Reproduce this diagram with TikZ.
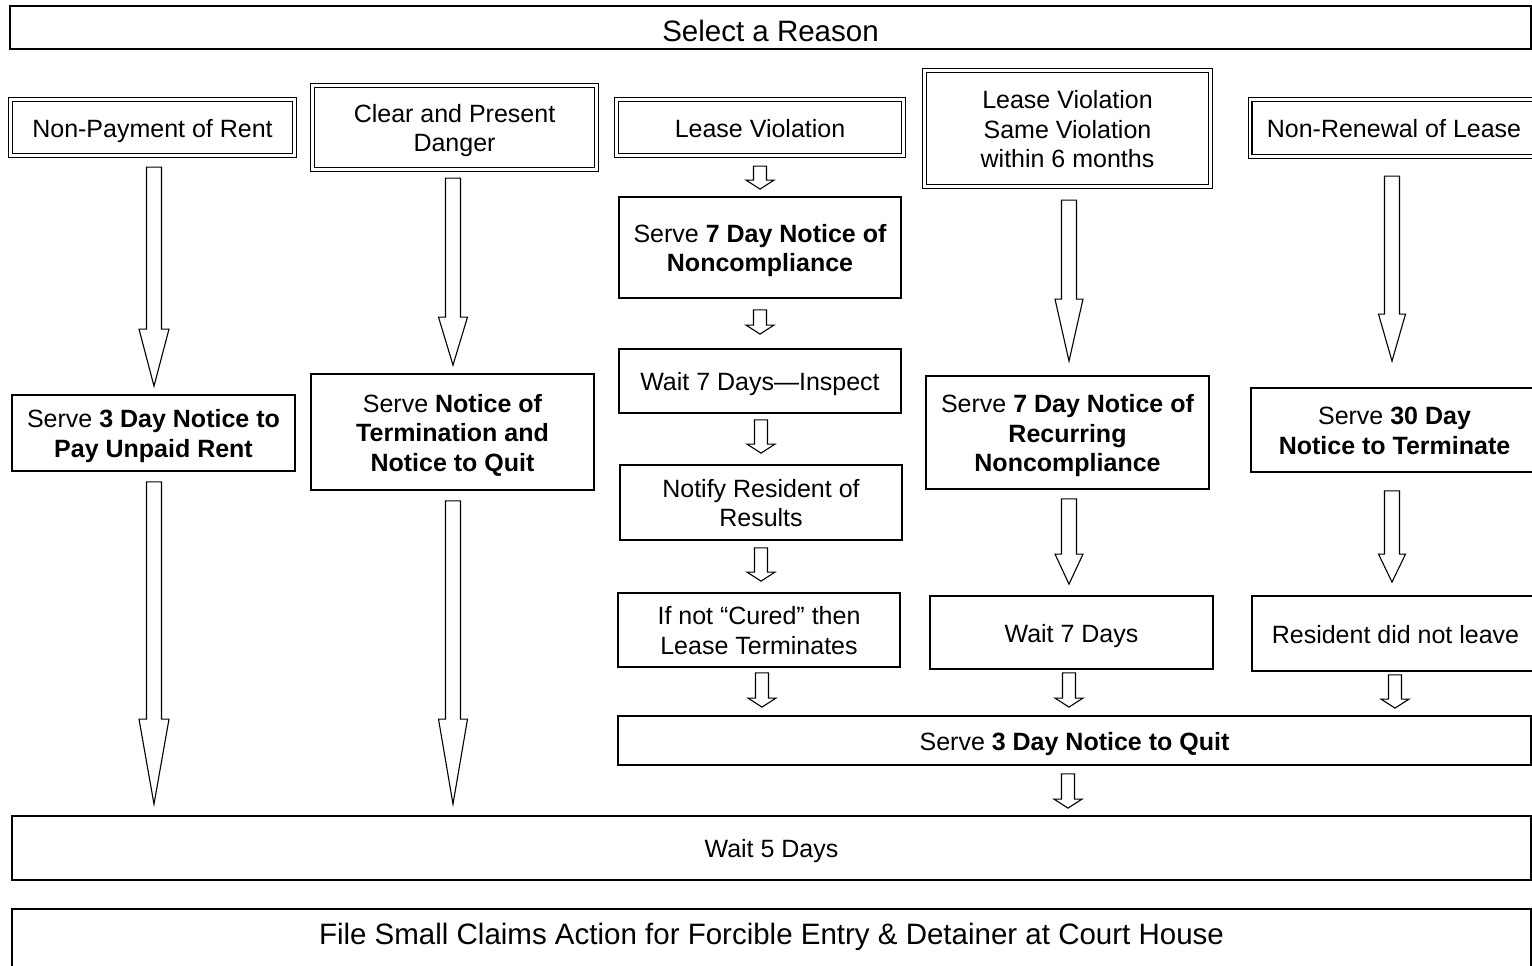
\documentclass[tikz,border=0pt]{standalone}
\usepackage{fontspec}
\setmainfont{Liberation Sans}
\usetikzlibrary{calc}
\newcommand{\fsz}{\fontsize{25}{29.5}\selectfont}
\newcommand{\fbig}{\fontsize{29.5}{34}\selectfont}
\newcommand{\strA}{\rule{0pt}{24.5pt}}
\newcommand{\strB}{\rule[-5.5pt]{0pt}{5.5pt}}
\newcommand{\blkarrow}[8]{%
 \draw[blkarr] let \p1=($(#1.south)+(#8,0)$), \p2=(#2.north) in
 (\x1-#5pt,\y1-#3pt) -- (\x1-#5pt,\y2+#4pt+#7pt) -- (\x1-#6pt,\y2+#4pt+#7pt) -- (\x1,\y2+#4pt)
 -- (\x1+#6pt,\y2+#4pt+#7pt) -- (\x1+#5pt,\y2+#4pt+#7pt) -- (\x1+#5pt,\y1-#3pt) -- cycle;}
\begin{document}
\begin{tikzpicture}[x=1pt,y=-1pt,
 box/.style={draw=black, line width=1.8pt, fill=white, align=center, font=\fsz, inner sep=0pt},
 dbox/.style={box, line width=1.3pt, double=white, double distance=2.4pt},
 blkarr/.style={draw=black, line width=1.1pt, fill=white, line join=miter}]
\useasboundingbox (0,0) rectangle (1532,966);
\fill[white] (0,0) rectangle (1532,966);
\clip (0,0) rectangle (1532,966);

% title
\node[box, font=\fbig, minimum width=1521, minimum height=43, text height=28pt, text depth=0pt] (title) at (770.5,27.5) {Select a Reason};

% row 1 (double)
\node[dbox, minimum width=284, minimum height=56] (np) at (152.5,127.5) {\strA Non-Payment of Rent\strB};
\node[dbox, minimum width=284, minimum height=84] (cpd) at (454.5,127.5) {\strA Clear and Present\\Danger\strB};
\node[dbox, minimum width=287, minimum height=56] (lv) at (760,127.5) {\strA Lease Violation\strB};
\node[dbox, minimum width=286, minimum height=116] (lvs) at (1067.5,128.5) {\strA Lease Violation\\Same Violation\\within 6 months\strB};
\node[dbox, minimum width=288, minimum height=57] (nr) at (1394,128) {\strA Non-Renewal of Lease\strB};

% column boxes
\node[box, minimum width=283, minimum height=76] (s3) at (153.5,433) {\strA Serve \textbf{3 Day Notice to}\\\textbf{Pay Unpaid Rent}\strB};
\node[box, minimum width=283, minimum height=116] (snt) at (452.5,432) {\strA Serve \textbf{Notice of}\\\textbf{Termination and}\\\textbf{Notice to Quit}\strB};
\node[box, minimum width=282, minimum height=101] (s7) at (760,247.5) {\strA Serve \textbf{7 Day Notice of}\\\textbf{Noncompliance}\strB};
\node[box, minimum width=282, minimum height=64] (w7i) at (760,381) {\strA Wait 7 Days—Inspect\strB};
\node[box, minimum width=282, minimum height=75] (nrr) at (761,502.5) {\strA Notify Resident of\\Results\strB};
\node[box, minimum width=282, minimum height=74] (inc) at (759,630) {\strA If not “Cured” then\\Lease Terminates\strB};
\node[box, minimum width=283, minimum height=113] (s7r) at (1067.5,432.5) {\strA Serve \textbf{7 Day Notice of}\\\textbf{Recurring}\\\textbf{Noncompliance}\strB};
\node[box, minimum width=283, minimum height=73] (w7) at (1071.5,632.5) {\strA Wait 7 Days\strB};
\node[box, minimum width=287, minimum height=84] (s30) at (1394.5,430) {\strA Serve \textbf{30 Day}\\\textbf{Notice to Terminate}\strB};
\node[box, minimum width=287, minimum height=75] (rdnl) at (1395.5,633.5) {\strA Resident did not leave\strB};
\node[box, minimum width=913, minimum height=49] (s3q) at (1074.5,740.5) {\strA Serve \textbf{3 Day Notice to Quit}\strB};
\node[box, minimum width=1519, minimum height=64] (w5) at (771.5,848) {\strA Wait 5 Days\strB};
\node[box, font=\fbig, minimum width=1519, minimum height=66, text height=21.3pt, text depth=16.1pt] (fsc) at (771.5,942) {File Small Claims Action for Forcible Entry \& Detainer at Court House};

% arrows: src, tgt, gap top, gap bottom, shaft half, head half, head length, dx
\blkarrow{np}{s3}{11}{8}{7.5}{15}{57}{1.5}
\blkarrow{s3}{w5}{10}{11}{7.5}{15}{85}{0.5}
\blkarrow{cpd}{snt}{8}{8}{7.5}{14.5}{48}{-1.5}
\blkarrow{snt}{w5}{10}{11}{7.5}{14.5}{85}{0.5}
\blkarrow{lv}{s7}{10}{7}{6.5}{14}{9}{0}
\blkarrow{s7}{w7i}{11}{14}{6.5}{14}{9}{0}
\blkarrow{w7i}{nrr}{6}{11}{6.5}{14}{9}{1}
\blkarrow{nrr}{inc}{7}{11}{6.5}{14}{9}{0}
\blkarrow{inc}{s3q}{5}{8}{6.5}{14}{9}{3}
\blkarrow{lvs}{s7r}{13}{14}{7.5}{14}{62}{1.5}
\blkarrow{s7r}{w7}{9}{11}{7.5}{14}{30}{1.5}
\blkarrow{w7}{s3q}{3}{8}{6.5}{14}{9}{-2.5}
\blkarrow{nr}{s30}{19}{26}{7.5}{13.5}{47}{-2}
\blkarrow{s30}{rdnl}{18}{13}{7.5}{13.5}{28}{-2.5}
\blkarrow{rdnl}{s3q}{3}{7}{6.5}{14}{9}{-0.5}
\blkarrow{s3q}{w5}{8}{7}{6.5}{14}{9}{-6.5}
\end{tikzpicture}
\end{document}
